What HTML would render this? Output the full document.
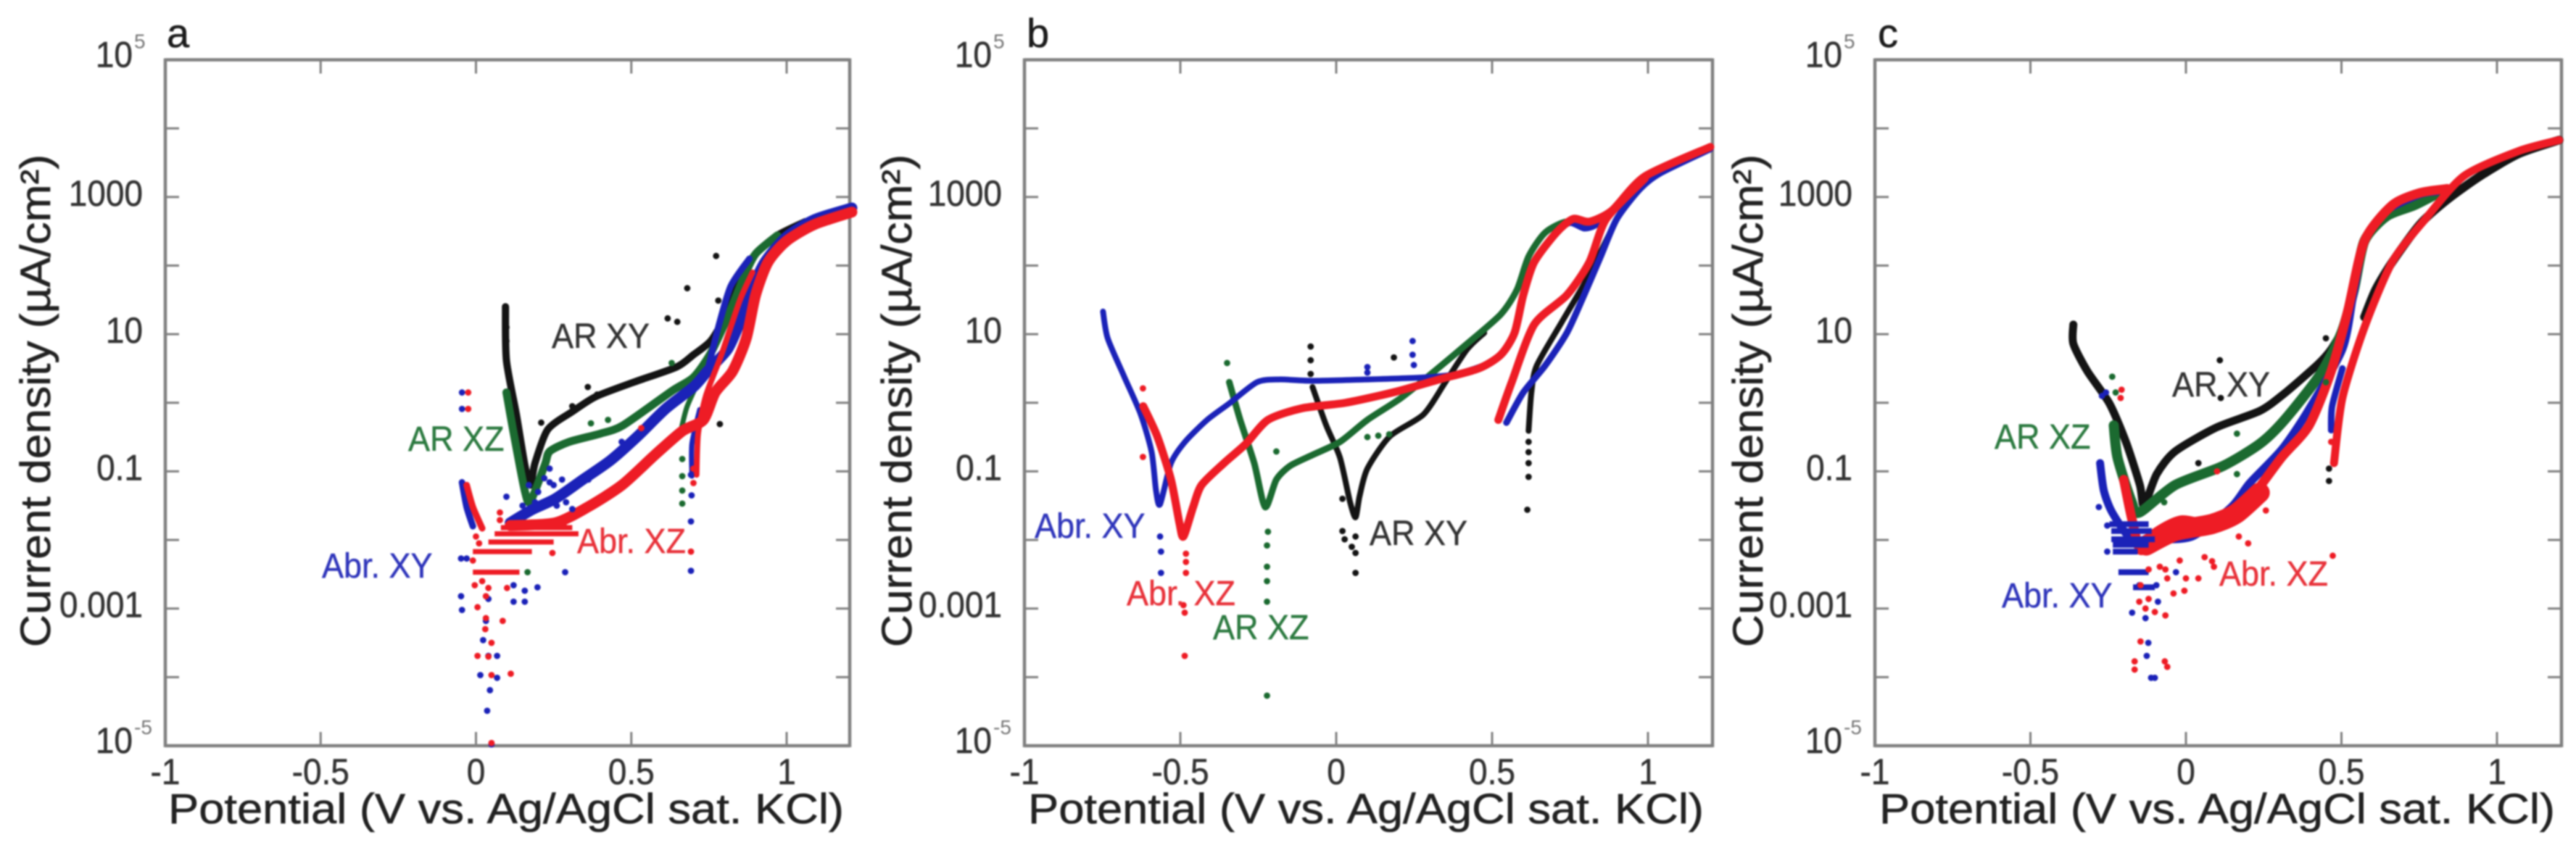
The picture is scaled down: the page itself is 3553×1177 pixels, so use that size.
<!DOCTYPE html>
<html lang="en">
<head>
<meta charset="utf-8">
<title>Polarization curves</title>
<style>
html,body{margin:0;padding:0;background:#fff;width:3553px;height:1177px;overflow:hidden}
svg{display:block;filter:blur(1px)}
text{font-family:"Liberation Sans",sans-serif}
.tl{font-size:46px;fill:#333;stroke:#333;stroke-width:.5px}
.at{font-size:58px;fill:#222;stroke:#222;stroke-width:.6px}
.pl{font-size:56px;fill:#1c1c1c;stroke:#1c1c1c;stroke-width:.5px}
.sl{font-size:45px;stroke-width:.4px}
</style>
</head>
<body>
<svg id="fig" xmlns="http://www.w3.org/2000/svg" width="3553" height="1177" viewBox="0 0 3553 1177">
<rect width="3553" height="1177" fill="#fff"/>
<g id="panel-a">
<text class="pl" x="230" y="65">a</text>
<text class="at" x="232" y="1136" textLength="932" lengthAdjust="spacingAndGlyphs">Potential (V vs. Ag/AgCl sat. KCl)</text>
<text class="at" transform="translate(69 893) rotate(-90)" textLength="680" lengthAdjust="spacingAndGlyphs">Current density (µA/cm²)</text>
</g>
<g id="panel-b">
<text class="pl" x="1416" y="65">b</text>
<text class="at" x="1418" y="1136" textLength="932" lengthAdjust="spacingAndGlyphs">Potential (V vs. Ag/AgCl sat. KCl)</text>
<text class="at" transform="translate(1257 893) rotate(-90)" textLength="680" lengthAdjust="spacingAndGlyphs">Current density (µA/cm²)</text>
</g>
<g id="panel-c">
<text class="pl" x="2590" y="65">c</text>
<text class="at" x="2592" y="1136" textLength="932" lengthAdjust="spacingAndGlyphs">Potential (V vs. Ag/AgCl sat. KCl)</text>
<text class="at" transform="translate(2431 893) rotate(-90)" textLength="680" lengthAdjust="spacingAndGlyphs">Current density (µA/cm²)</text>
</g>
</svg>
<script>
// Axis tick values
const xTicks = [-1, -0.5, 0, 0.5, 1];
const xTickLabels = ['-1', '-0.5', '0', '0.5', '1'];
const yTicks = [4, 3, 2, 1, 0, -1, -2, -3, -4];
const yPlainTicks = [3, 1, -1, -3];
const yPlainLabels = ['1000', '10', '0.1', '0.001'];
const yPowerTicks = [5, -5];
const yPowerLabels = ['5', '-5'];

// Every series value is [potential in V, log10 of current density]
const aArXY = [[.095,1.4],[.098,.62],[.13,-.17],[.157,-.9],[.175,-1.2],[.19,-.88],[.231,-.39],[.31,-.13],[.386,.09],[.508,.30],[.645,.52],[.70,.70],[.757,.91],[.81,1.33],[.845,1.81],[.90,2.17],[.97,2.44],[1.06,2.64]];
const aArXZ = [[.098,.15],[.12,-.41],[.157,-1.28],[.175,-1.44],[.222,-.9],[.237,-.71],[.30,-.57],[.40,-.45],[.473,-.33],[.63,.17],[.70,.37],[.755,.72],[.81,1.25],[.86,1.81],[.90,2.17],[.97,2.44]];
const aAbrXY = [[-.045,-1.16],[-.03,-1.52],[-.01,-1.8]];
const aAbrXY2 = [[.11,-1.75],[.18,-1.56],[.255,-1.4],[.344,-1.12],[.433,-.84],[.52,-.49],[.61,-.09],[.70,.23],[.745,.46],[.81,.78],[.85,1.18],[.88,1.57],[.93,2.05],[1.0,2.42],[1.09,2.67],[1.21,2.84]];
const aAbrXYreturn = [[.745,.46],[.78,1.1],[.82,1.7],[.88,2.1]];
const aAbrXYtail = [[.695,-1.07],[.695,-.6],[.72,-.1]];
const aAbrXZ = [[-.03,-1.2],[-.01,-1.52],[.02,-1.83]];
const aAbrXZ2 = [[.11,-1.79],[.255,-1.75],[.36,-1.52],[.47,-1.2],[.576,-.76],[.665,-.41],[.732,-.25],[.77,.15],[.826,.46],[.87,.94],[.90,1.57],[.94,2.05],[1.0,2.36],[1.09,2.6],[1.21,2.78]];
const aAbrXZreturn = [[.71,-1.05],[.715,-.45],[.74,.1],[.79,.7],[.85,1.5],[.89,1.9]];
const aArXZreturn = [[.66,-.4],[.68,-.05],[.73,.45]];
const aSteps = [[.08,.31,-1.82],[.06,.33,-1.91],[.04,.25,-2.03],[-.01,.18,-2.17],[-.01,.14,-2.47]];
const aDotsBlack = [[.095,1.4],[.098,1.1],[.098,.9],[.773,2.14],[.68,1.67],[.617,1.23],[.648,1.18],[.78,1.49],[.785,-.31],[.36,.23],[.31,-.05],[.39,.12],[.21,-.29]];
const aDotsGreen = [[.664,-.82],[.664,-1.07],[.664,-1.28],[.664,-1.47],[.166,-2.47],[.425,-.25],[.63,.58],[.37,-.3]];
const aDotsBlue = [[-.045,.15],[-.045,-.09],[.287,-2.47],[.692,-2.45],[.692,-1.73],[.694,-1.35],[.692,-1.05],[.277,-1.12],[.098,-1.37],[-.048,-2.82],[-.045,-3.02],[-.03,-2.27],[-.048,-2.27],[.04,-2.86],[.032,-3.18],[.023,-3.46],[.04,-3.69],[.068,-3.69],[.014,-3.97],[.068,-4.01],[.045,-4.19],[.036,-4.49],[.05,-4.98],[.198,-2.69],[.157,-2.74],[.121,-2.66],[.121,-2.9],[.157,-2.9],[.237,-1.16],[.237,-.96],[.469,-.57],[.362,-1.12],[.17,-1.2],[.2,-1.3],[.22,-1.1],[.25,-1.2],[.24,-1.4],[.19,-1.45],[.26,-1.5],[.29,-1.45],[.31,-1.55],[.15,-1.5]];
const aDotsRed = [[-.025,.15],[-.025,-.09],[.532,-.37],[.70,-1.17],[.70,-.96],[.692,-2.17],[.112,-3.95],[.05,-3.97],[.005,-3.69],[.05,-3.5],[.032,-3.14],[.086,-3.18],[.005,-2.98],[.032,-2.82],[-.004,-2.66],[.077,-1.6],[.077,-1.71],[.246,-2.19],[.282,-1.79],[.05,-4.96],[.0,-1.95],[.01,-2.05],[-.01,-2.3],[.02,-2.6],[.04,-2.7],[.1,-2.7],[.03,-3.3],[.04,-3.7]];

const bArXY = [[-.076,.23],[-.032,-.33],[.012,-.8],[.044,-1.44],[.062,-1.67],[.075,-1.36],[.1,-.96],[.172,-.49],[.28,-.17],[.35,.3],[.42,.78],[.475,1.02]];
const bArXYreturn = [[.617,-.41],[.626,.15],[.643,.54],[.724,1.18],[.795,1.73],[.848,2.2],[.90,2.68]];
const bArXZ = [[-.343,.30],[-.308,-.25],[-.263,-.88],[-.228,-1.52],[-.192,-1.12],[-.148,-.92],[-.076,-.76],[.012,-.57],[.10,-.25],[.208,.07],[.315,.46],[.42,.86],[.528,1.29],[.58,1.65],[.617,2.13],[.67,2.48],[.74,2.64],[.812,2.56],[.866,2.68]];
const bAbrXY = [[-.748,1.33],[-.733,.94],[-.68,.38],[-.627,-.17],[-.592,-.72],[-.578,-1.28],[-.565,-1.48],[-.53,-.88],[-.485,-.57],[-.414,-.25],[-.343,-.01],[-.254,.30],[-.183,.34],[-.076,.32],[.10,.34],[.28,.37],[.386,.42],[.49,.58],[.546,.78],[.58,1.18],[.608,1.73],[.643,2.13],[.706,2.48],[.75,2.62],[.795,2.54],[.83,2.58],[.866,2.72]];
const bAbrXYreturn = [[.546,-.29],[.6,.15],[.67,.54],[.74,1.02],[.795,1.57],[.848,2.13],[.90,2.68],[.975,3.12],[1.04,3.35],[1.2,3.7]];
const bAbrXZ = [[-.619,-.05],[-.574,-.49],[-.53,-1.12],[-.503,-1.75],[-.49,-1.95],[-.459,-1.52],[-.432,-1.2],[-.36,-.88],[-.29,-.6],[-.219,-.25],[-.11,-.08],[.03,0],[.19,.16],[.33,.34],[.457,.5],[.528,.7],[.572,1.02],[.6,1.57],[.635,2.05],[.706,2.48],[.76,2.68],[.812,2.64],[.884,2.8],[.99,3.3],[1.2,3.73]];
const bAbrXZreturn = [[.52,-.25],[.563,.3],[.635,1.14],[.74,1.57],[.812,2.05],[.866,2.68],[.99,3.27]];
const bDotsBlack = [[-.082,.82],[-.082,.62],[-.082,.42],[.613,-1.56],[.617,-1.08],[.617,-.88],[.617,-.72],[.617,-.57],[.062,-2.48],[.062,-2.19],[.062,-1.95],[.02,-1.4],[.02,-1.87],[.027,-1.99],[.185,.66],[.05,-2.1]];
const bDotsGreen = [[-.35,.58],[-.222,-4.27],[-.222,-2.9],[-.192,-.71],[-.222,-2.39],[-.222,-2.08],[-.219,-1.88],[-.222,-2.6],[.10,-.5],[.135,-.48],[.17,-.46]];
const bDotsBlue = [[-.562,-2.48],[-.562,-2.17],[-.565,-1.95],[.245,.9],[.245,.7],[.249,.55],[.10,.44],[.1,.52]];
const bDotsRed = [[-.62,.21],[-.62,-.79],[-.486,-3.69],[-.482,-2.2],[-.482,-2.32],[-.482,-2.48],[-.486,-3.06],[-.49,-2.95]];

const cArXY = [[-.362,1.14],[-.362,.86],[-.317,.46],[-.246,-.01],[-.193,-.57],[-.148,-1.2],[-.135,-1.5],[-.094,-1.04],[-.035,-.71],[.098,-.36],[.237,-.12],[.315,.13],[.424,.56],[.467,.78],[.52,1.18]];
const cArXYreturn = [[.574,1.25],[.61,1.65],[.663,2.05],[.752,2.6],[.84,2.96],[.948,3.31],[1.07,3.63],[1.2,3.83]];
const cArXZ = [[-.232,-.33],[-.22,-.8],[-.175,-1.44],[-.15,-1.6],[-.035,-1.2],[.12,-.92],[.237,-.6],[.315,-.26],[.431,.41],[.5,1.02],[.54,1.65],[.574,2.36],[.645,2.72],[.734,2.88],[.82,3.08]];
const cAbrXY = [[-.276,-.88],[-.264,-1.28],[-.237,-1.6],[-.175,-1.99],[-.103,-1.99],[.02,-1.95],[.146,-1.52],[.205,-1.17],[.308,-.68],[.392,-.12],[.503,.78],[.538,1.57],[.574,2.36],[.645,2.8],[.752,3.04],[.806,3.08]];
const cAbrXYreturn = [[.467,-.4],[.47,-.05],[.503,.5]];
const cAbrXZ = [[-.2,-1.12],[-.175,-1.67],[-.146,-2.15],[-.103,-1.91],[-.014,-1.71],[.11,-1.79],[.2,-1.44],[.307,-.8],[.396,-.33],[.467,.46],[.52,1.33],[.574,2.36],[.663,2.88],[.752,3.06],[.84,3.12]];
const cAbrXZreturn = [[.476,-.88],[.503,.07],[.574,1.1],[.663,2.05],[.77,2.68],[.895,3.31],[1.07,3.67],[1.2,3.83]];
const cAbrXZband = [[-.128,-2.08],[-.035,-1.87],[.082,-1.77],[.16,-1.62],[.237,-1.31]];
const cStepsBlue = [[-.246,-.12,-1.77],[-.24,-.11,-1.87],[-.24,-.1,-1.99],[-.235,-.12,-2.07],[-.235,-.155,-2.17],[-.217,-.12,-2.47],[-.17,-.1,-2.69]];
const cDotsBlack = [[-.362,1.14],[.109,.62],[.112,.07],[.46,-1.14],[.45,.94],[.04,-.88],[.46,-.96]];
const cDotsGreen = [[-.237,.38],[-.226,.15],[.164,-.45],[.164,-1.04],[.45,.3],[-.07,-1.45]];
const cDotsBlue = [[-.253,-1.79],[-.253,-2.17],[-.28,-1.52],[-.257,.15],[-.27,.1],[-.121,-3.5],[-.126,-3.69],[-.112,-4.01],[-.1,-4.01],[-.173,-3.06],[-.13,-3.14],[-.095,-2.66],[-.032,-2.47],[-.15,-2.66],[-.09,-2.9]];
const cDotsRed = [[-.207,.19],[-.21,.07],[.084,-2.31],[.09,-2.39],[.472,-2.23],[.257,-1.57],[0,-2.56],[.04,-2.56],[-.06,-2.56],[-.005,-2.74],[-.04,-2.78],[-.165,-3.77],[-.165,-3.89],[-.068,-3.77],[-.06,-3.85],[-.146,-3.48],[-.066,-3.1],[-.12,-2.43],[-.146,-2.66],[-.12,-2.86],[-.084,-2.39],[-.066,-2.43],[.467,-.57],[.1,-1],[.415,-.17],[-.15,-2.9],[-.13,-3.0],[-.1,-3.05],[-.02,-2.3],[.06,-2.25],[.17,-1.95],[.2,-2.05]];

// Series colours and label text
const seriesNames = ['AR XY', 'AR XZ', 'Abr. XY', 'Abr. XZ'];
const seriesColors = ['#141414', '#1b6a30', '#1b22b8', '#ee1c25'];
const labelColors = ['#333333', '#2c7a40', '#3036bb', '#e8323a'];

const NS = 'http://www.w3.org/2000/svg';

function make(tag, parent, attrs) {
  const el = document.createElementNS(NS, tag);
  for (const k in attrs) el.setAttribute(k, attrs[k]);
  parent.appendChild(el);
  return el;
}

function bar(parent, x1, y1, x2, y2, thick, colour) {
  const horizontal = y1 === y2;
  return make('rect', parent, {
    x: horizontal ? Math.min(x1, x2) : x1 - thick / 2,
    y: horizontal ? y1 - thick / 2 : Math.min(y1, y2),
    width: horizontal ? Math.abs(x2 - x1) : thick,
    height: horizontal ? thick : Math.abs(y2 - y1),
    fill: colour
  });
}

function smoothPath(pts) {
  let d = 'M' + pts[0][0] + ' ' + pts[0][1];
  for (let i = 0; i < pts.length - 1; i++) {
    const p0 = pts[Math.max(i - 1, 0)], p1 = pts[i], p2 = pts[i + 1], p3 = pts[Math.min(i + 2, pts.length - 1)];
    d += ' C' + (p1[0] + (p2[0] - p0[0]) / 8) + ' ' + (p1[1] + (p2[1] - p0[1]) / 8) + ' ' +
      (p2[0] - (p3[0] - p1[0]) / 8) + ' ' + (p2[1] - (p3[1] - p1[1]) / 8) + ' ' + p2[0] + ' ' + p2[1];
  }
  return d;
}

function drawPanel(id, left, right, unit, series, steps, stepWidth, dots, labels) {
  const root = document.getElementById(id);
  const plotTop = 82.5, plotBottom = 1029;
  const x = v => left + (v + 1) * unit;
  const y = d => plotTop + (5 - d) * (plotBottom - plotTop) / 10;
  const axisGrey = '#808080';

  [[left, plotTop, right, plotTop], [left, plotBottom, right, plotBottom], [left, plotTop - 2, left, plotBottom + 2], [right, plotTop - 2, right, plotBottom + 2]].forEach(s => {
    const side = bar(root, s[0], s[1], s[2], s[3], 4.5, axisGrey);
    
    
  });

  xTicks.forEach((t, i) => {
    if (i > 0) {
      [[plotBottom, plotBottom - 19], [plotTop, plotTop + 19]].forEach(p => {
        const tick = bar(root, x(t), p[0], x(t), p[1], 3, axisGrey);
        
        
      });
    }
    const lab = make('text', root, {transform: 'translate(' + x(t) + ' 1082) scale(1 1.08)', 'text-anchor': 'middle', class: 'tl'});
    lab.textContent = xTickLabels[i];
    
    
  });

  yTicks.forEach(t => {
    [[left, left + 19], [right, right - 19]].forEach(p => {
      const tick = bar(root, p[0], y(t), p[1], y(t), 3, axisGrey);
      
      
    });
  });

  yPlainTicks.forEach((t, i) => {
    const lab = make('text', root, {transform: 'translate(' + (left - 31) + ' ' + (y(t) + 12) + ') scale(1 1.08)', 'text-anchor': 'end', class: 'tl'});
    lab.textContent = yPlainLabels[i];
    
    
  });

  yPowerTicks.forEach((t, i) => {
    const base = make('text', root, {transform: 'translate(' + (left - 45) + ' ' + (y(t) + 10) + ') scale(1 1.08)', 'text-anchor': 'end', class: 'tl'});
    base.textContent = '10';
    
    
    const sup = make('text', root, {x: left - 43, y: y(t) - 16, 'text-anchor': 'start', fill: '#777', 'font-size': 28});
    sup.textContent = yPowerLabels[i];
    
    
  });

  series.forEach(s => {
    const line = make('path', root, {
      d: smoothPath(s[0].map(p => [x(p[0]), y(p[1])])),
      fill: 'none', stroke: seriesColors[s[1]], 'stroke-width': s[2],
      'stroke-linejoin': 'round', 'stroke-linecap': 'round'
    });
    
    
  });

  steps.forEach(s => {
    s[0].forEach(r => {
      const st = bar(root, x(r[0]), y(r[2]), x(r[1]), y(r[2]), stepWidth, seriesColors[s[1]]);
      
      
    });
  });

  dots.forEach(d => {
    d[0].forEach(p => {
      const c = make('circle', root, {cx: x(p[0]), cy: y(p[1]), r: 4.4, fill: seriesColors[d[1]]});
      
      
    });
  });

  labels.forEach(l => {
    const t = make('text', root, {transform: 'translate(' + l[1] + ' ' + l[2] + ') scale(1 1.08)', class: 'sl', fill: labelColors[l[0]], stroke: labelColors[l[0]]});
    t.textContent = seriesNames[l[0]];
    
    
  });
}

drawPanel('panel-a', 228, 1172, 428.5,
  [[aArXY,0,10],[aArXZ,1,11],[aArXZreturn,1,7],[aAbrXY,2,9],[aAbrXY2,2,15],[aAbrXYreturn,2,9],[aAbrXYtail,2,7],[aAbrXZ,3,9],[aAbrXZ2,3,15],[aAbrXZreturn,3,8]],
  [[aSteps,3]], 7,
  [[aDotsBlack,0],[aDotsGreen,1],[aDotsBlue,2],[aDotsRed,3]],
  [[0,761,480],[1,563,622],[2,444,797],[3,796,763]]);

drawPanel('panel-b', 1413, 2362, 430,
  [[bArXY,0,8],[bArXYreturn,0,8],[bArXZ,1,9],[bAbrXY,2,8],[bAbrXYreturn,2,9],[bAbrXZ,3,11],[bAbrXZreturn,3,11]],
  [], 6,
  [[bDotsBlack,0],[bDotsGreen,1],[bDotsBlue,2],[bDotsRed,3]],
  [[0,1889,752],[2,1427,742],[3,1554,835],[1,1673,882]]);

drawPanel('panel-c', 2586, 3533, 429,
  [[cArXY,0,11],[cArXYreturn,0,12],[cArXZ,1,14],[cAbrXY,2,11],[cAbrXYreturn,2,9],[cAbrXZ,3,13],[cAbrXZreturn,3,11],[cAbrXZband,3,28]],
  [[cStepsBlue,2]], 8,
  [[cDotsBlack,0],[cDotsGreen,1],[cDotsBlue,2],[cDotsRed,3]],
  [[0,2996,547],[1,2751,619],[2,2761,838],[3,3061,808]]);
</script>
</body>
</html>
